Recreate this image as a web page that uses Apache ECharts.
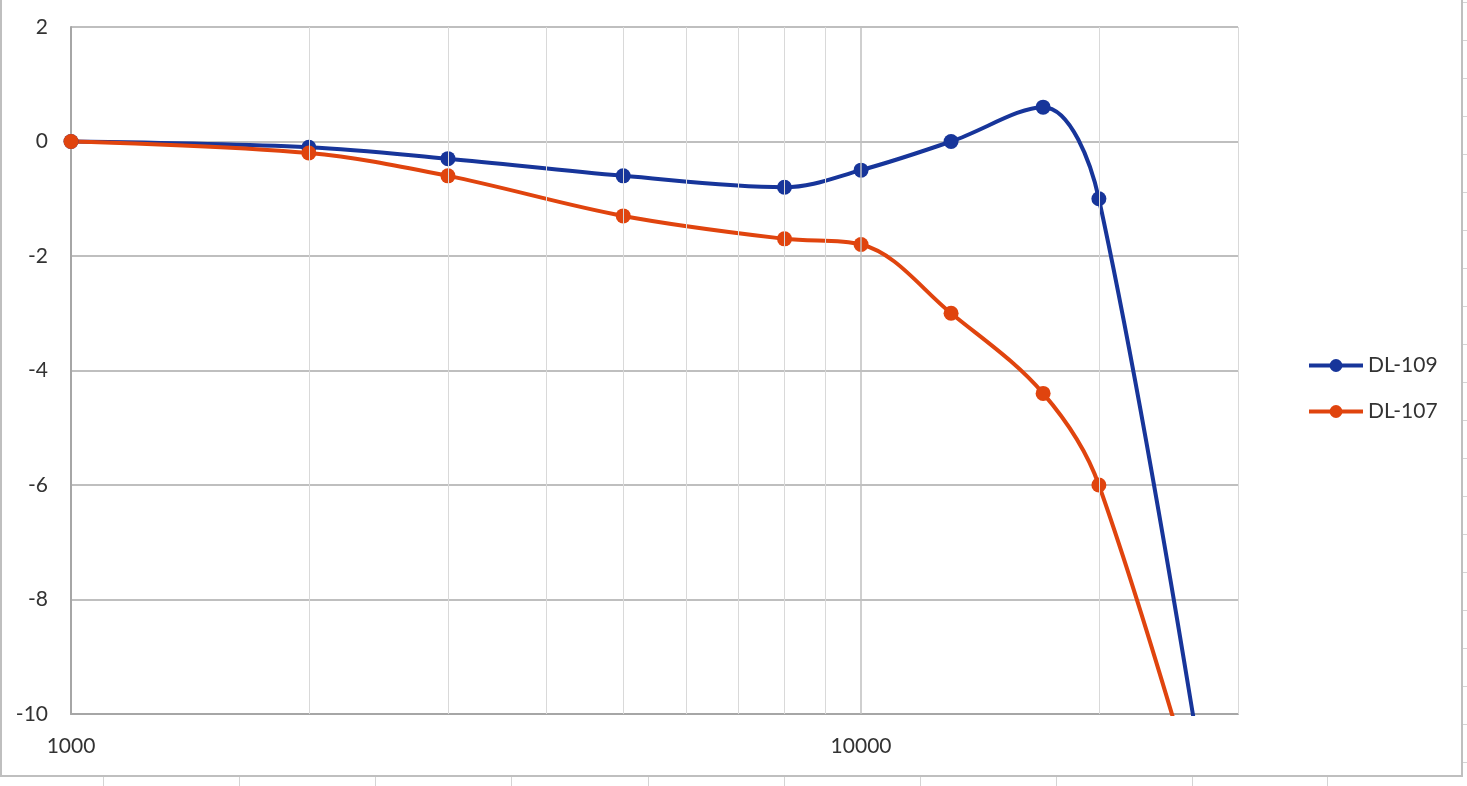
<!DOCTYPE html>
<html>
<head>
<meta charset="utf-8">
<script src="https://cdn.jsdelivr.net/npm/echarts@6/dist/echarts.min.js"></script>
<style>
html,body{margin:0;padding:0;background:#fff;}
#chart{width:1467px;height:786px;}
</style>
</head>
<body>
<div id="chart"></div>
<script>
// Frequency (Hz) categories
const freqs = [1000, 2000, 3000, 5000, 8000, 10000, 13000, 17000, 20000, 30000];
// Series values (dB)
const dl109 = [0, -0.1, -0.3, -0.6, -0.8, -0.5, 0, 0.6, -1, -15];
const dl107 = [0, -0.2, -0.6, -1.3, -1.7, -1.8, -3, -4.4, -6, -14];
const seriesNames = ['DL-109', 'DL-107'];
// Axis settings / gridlines
const yTicks = [2, 0, -2, -4, -6, -8, -10];
const minorGridX = [2000, 3000, 4000, 5000, 6000, 7000, 8000, 9000, 20000, 30000];
const majorGridX = [10000];

const FONT = 'Lato';
const TEXT = '#333333';
const chart = echarts.init(document.getElementById('chart'), null, {renderer: 'canvas'});

const pairs = (vals) => freqs.map((f, i) => [f, vals[i]]);

const gridLines = [];
minorGridX.forEach(v => gridLines.push({xAxis: v, lineStyle: {color: '#d9d9d9', width: 1, type: 'solid'}}));
majorGridX.forEach(v => gridLines.push({xAxis: v, lineStyle: {color: '#bfbfbf', width: 1.5, type: 'solid'}}));

// decorative chart-object border and spreadsheet cell lines
const deco = [
  {type: 'rect', shape: {x: 1, y: -2, width: 1461, height: 778}, style: {fill: null, stroke: '#bfbfbf', lineWidth: 2}, silent: true}
];
[103, 239, 375, 511, 648, 784, 920, 1056, 1192, 1327].forEach(x => {
  deco.push({type: 'line', shape: {x1: x + 0.5, y1: 777, x2: x + 0.5, y2: 786}, style: {stroke: '#d4d4d4', lineWidth: 1}, silent: true});
});
for (let y = 2; y < 786; y += 38) {
  deco.push({type: 'line', shape: {x1: 1463, y1: y + 0.5, x2: 1467, y2: y + 0.5}, style: {stroke: '#d4d4d4', lineWidth: 1}, silent: true});
}

const option = {
  animation: false,
  backgroundColor: '#ffffff',
  textStyle: {fontFamily: FONT},
  graphic: deco,
  grid: {left: 71, right: 229, top: 27, bottom: 72, containLabel: false},
  legend: {
    data: seriesNames,
    orient: 'vertical',
    left: 1302,
    top: 350,
    itemWidth: 54,
    itemHeight: 16,
    itemGap: 25,
    lineStyle: {width: 4},
    textStyle: {fontFamily: FONT, fontSize: 21, color: TEXT}
  },
  xAxis: {
    type: 'log',
    logBase: 10,
    min: freqs[0],
    max: freqs[freqs.length - 1],
    axisLine: {show: true, onZero: false, lineStyle: {color: '#a6a6a6', width: 2}},
    axisTick: {show: false},
    splitLine: {show: false},
    axisLabel: {
      show: true,
      margin: 22,
      showMaxLabel: false,
      fontFamily: FONT,
      fontSize: 21,
      color: TEXT,
      formatter: (v) => {
        const l = Math.log10(v);
        return Math.abs(l - Math.round(l)) < 1e-6 ? String(Math.round(v)) : '';
      }
    }
  },
  yAxis: {
    type: 'value',
    min: yTicks[yTicks.length - 1],
    max: yTicks[0],
    interval: 2,
    axisLine: {show: true, onZero: false, lineStyle: {color: '#a6a6a6', width: 2}},
    axisTick: {show: false},
    splitLine: {show: true, lineStyle: {color: '#bfbfbf', width: 2}},
    axisLabel: {margin: 23, fontFamily: FONT, fontSize: 21, color: TEXT}
  },
  series: [
    {
      name: '_grid',
      type: 'line',
      data: [],
      z: 1,
      silent: true,
      markLine: {
        silent: true,
        symbol: ['none', 'none'],
        label: {show: false},
        animation: false,
        data: gridLines
      }
    },
    {
      name: seriesNames[0],
      type: 'line',
      data: pairs(dl109),
      smooth: 0.35,
      symbol: 'circle',
      symbolSize: 15,
      clip: true,
      z: 3,
      itemStyle: {color: '#17359a'},
      lineStyle: {color: '#17359a', width: 4}
    },
    {
      name: seriesNames[1],
      type: 'line',
      data: pairs(dl107),
      smooth: 0.35,
      symbol: 'circle',
      symbolSize: 15,
      clip: true,
      z: 3,
      itemStyle: {color: '#e0440e'},
      lineStyle: {color: '#e0440e', width: 4}
    }
  ]
};
chart.setOption(option);
</script>
</body>
</html>
